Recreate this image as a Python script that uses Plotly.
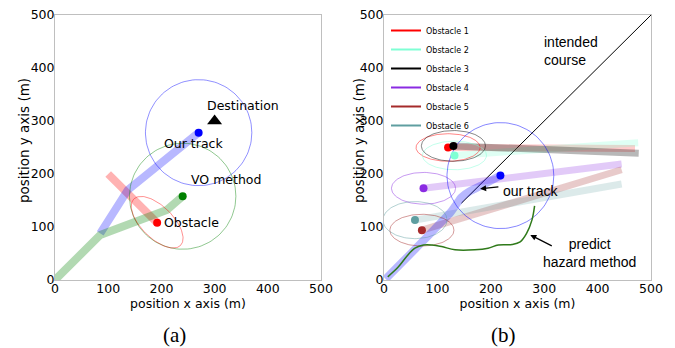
import numpy as np
import plotly.graph_objects as go

# ---------------- data: panel (a) ----------------
a_blue_x = [85, 137, 270]
a_blue_y = [88, 170, 278]
a_green_x = [0, 85, 160, 210, 240]
a_green_y = [0, 85, 113, 132, 158]
a_red_x = [100, 192]
a_red_y = [200, 108]
a_dest = (300, 300)
a_circle_r = 100
a_red_ell = dict(cx=192, cy=109, a=62, b=30, ang=-45)

# ---------------- data: panel (b) ----------------
obs_names = ["Obstacle 1", "Obstacle 2", "Obstacle 3", "Obstacle 4", "Obstacle 5", "Obstacle 6"]
obs_colors = [(255, 0, 0), (127, 255, 212), (0, 0, 0), (138, 43, 226), (165, 42, 42), (95, 158, 160)]
obs_start_x = [120, 132, 130, 74, 71, 58]
obs_start_y = [250, 235, 253, 173, 94, 113]
obs_end_x = [470, 476, 477, 445, 445, 445]
obs_end_y = [248, 259, 239, 219, 208, 181]
obs_ell_a = [60, 60, 60, 60, 60, 60]
obs_ell_b = [26, 27, 29, 30, 30, 35]
obs_track_alpha = [0.2, 0.25, 0.28, 0.25, 0.25, 0.22]

b_track_x = [3, 60, 125, 135, 145, 160, 190, 218]
b_track_y = [2, 60, 128, 142, 156, 167, 182, 197]
b_circle_r = 100
intended_x = [145, 500]
intended_y = [145, 500]
hazard_x = [7, 27, 42, 58, 74, 90, 108, 133, 170, 195, 214, 240, 255, 267, 277, 282]
hazard_y = [6, 25, 44, 60, 66, 66, 63, 57, 57, 60, 66, 67, 72, 88, 113, 140]

ticks = [0, 100, 200, 300, 400, 500]
x_title = "position x axis (m)"
y_title = "position y axis (m)"


def ellipse(cx, cy, a, b, ang_deg=0.0, n=120):
    t = np.linspace(0, 2 * np.pi, n)
    th = np.deg2rad(ang_deg)
    x = cx + a * np.cos(th) * np.cos(t) - b * np.sin(th) * np.sin(t)
    y = cy + a * np.sin(th) * np.cos(t) + b * np.cos(th) * np.sin(t)
    return x, y


def rgba(c, a):
    return f"rgba({c[0]},{c[1]},{c[2]},{a})"


fig = go.Figure()

# ---------------- panel (a) traces ----------------
fig.add_trace(go.Scatter(x=a_red_x, y=a_red_y, mode="lines",
                         line=dict(color="rgba(255,0,0,0.3)", width=8),
                         showlegend=False, xaxis="x", yaxis="y"))
fig.add_trace(go.Scatter(x=a_blue_x, y=a_blue_y, mode="lines",
                         line=dict(color="rgba(0,0,255,0.28)", width=8),
                         showlegend=False, xaxis="x", yaxis="y"))
fig.add_trace(go.Scatter(x=a_green_x, y=a_green_y, mode="lines",
                         line=dict(color="rgba(0,128,0,0.3)", width=8),
                         showlegend=False, xaxis="x", yaxis="y"))
ex, ey = ellipse(a_blue_x[-1], a_blue_y[-1], a_circle_r, a_circle_r)
fig.add_trace(go.Scatter(x=ex, y=ey, mode="lines", line=dict(color="rgba(0,0,255,0.55)", width=0.8),
                         showlegend=False, xaxis="x", yaxis="y"))
ex, ey = ellipse(a_green_x[-1], a_green_y[-1], a_circle_r, a_circle_r)
fig.add_trace(go.Scatter(x=ex, y=ey, mode="lines", line=dict(color="rgba(0,128,0,0.55)", width=0.8),
                         showlegend=False, xaxis="x", yaxis="y"))
ex, ey = ellipse(a_red_ell["cx"], a_red_ell["cy"], a_red_ell["a"], a_red_ell["b"], a_red_ell["ang"])
fig.add_trace(go.Scatter(x=ex, y=ey, mode="lines", line=dict(color="rgba(255,0,0,0.55)", width=0.8),
                         showlegend=False, xaxis="x", yaxis="y"))
fig.add_trace(go.Scatter(x=[a_blue_x[-1]], y=[a_blue_y[-1]], mode="markers",
                         marker=dict(color="blue", size=8), showlegend=False, xaxis="x", yaxis="y"))
fig.add_trace(go.Scatter(x=[a_green_x[-1]], y=[a_green_y[-1]], mode="markers",
                         marker=dict(color="green", size=8), showlegend=False, xaxis="x", yaxis="y"))
fig.add_trace(go.Scatter(x=[a_red_x[-1]], y=[a_red_y[-1]], mode="markers",
                         marker=dict(color="red", size=8), showlegend=False, xaxis="x", yaxis="y"))
fig.add_trace(go.Scatter(x=[a_dest[0]], y=[a_dest[1]], mode="markers",
                         marker=dict(color="black", size=13, symbol="triangle-up"),
                         showlegend=False, xaxis="x", yaxis="y"))

# ---------------- panel (b) traces ----------------
fig.add_trace(go.Scatter(x=intended_x, y=intended_y, mode="lines", line=dict(color="black", width=1),
                         showlegend=False, xaxis="x2", yaxis="y2"))
for i in range(6):
    fig.add_trace(go.Scatter(x=[obs_start_x[i], obs_end_x[i]], y=[obs_start_y[i], obs_end_y[i]],
                             mode="lines", line=dict(color=rgba(obs_colors[i], obs_track_alpha[i]), width=7),
                             showlegend=False, xaxis="x2", yaxis="y2"))
fig.add_trace(go.Scatter(x=b_track_x, y=b_track_y, mode="lines",
                         line=dict(color="rgba(0,0,255,0.28)", width=8, shape="spline", smoothing=0.6),
                         showlegend=False, xaxis="x2", yaxis="y2"))
for i in range(6):
    ex, ey = ellipse(obs_start_x[i], obs_start_y[i], obs_ell_a[i], obs_ell_b[i])
    fig.add_trace(go.Scatter(x=ex, y=ey, mode="lines", line=dict(color=rgba(obs_colors[i], 0.6), width=0.8),
                             showlegend=False, xaxis="x2", yaxis="y2"))
ex, ey = ellipse(b_track_x[-1], b_track_y[-1], b_circle_r, b_circle_r)
fig.add_trace(go.Scatter(x=ex, y=ey, mode="lines", line=dict(color="rgba(0,0,255,0.6)", width=0.8),
                         showlegend=False, xaxis="x2", yaxis="y2"))
fig.add_trace(go.Scatter(x=hazard_x, y=hazard_y, mode="lines",
                         line=dict(color="#2f7a1a", width=1.5, shape="spline"),
                         showlegend=False, xaxis="x2", yaxis="y2"))
for i in range(6):
    fig.add_trace(go.Scatter(x=[obs_start_x[i]], y=[obs_start_y[i]], mode="markers",
                             marker=dict(color=rgba(obs_colors[i], 1), size=8),
                             showlegend=False, xaxis="x2", yaxis="y2"))
fig.add_trace(go.Scatter(x=[b_track_x[-1]], y=[b_track_y[-1]], mode="markers",
                         marker=dict(color="blue", size=8), showlegend=False, xaxis="x2", yaxis="y2"))
# legend entries
for i in range(6):
    fig.add_trace(go.Scatter(x=[None], y=[None], mode="lines", name=obs_names[i],
                             line=dict(color=rgba(obs_colors[i], 1), width=2),
                             showlegend=True, xaxis="x2", yaxis="y2"))

# page has an 8px body margin; lay out in window pixel coordinates
OFF = 8
W, H = 675 - OFF, 348 - OFF


def px(x):
    return (x - OFF) / W


def py(y):
    return 1 - (y - OFF) / H


ydom = [py(280), py(15)]
tickfont = dict(family="DejaVu Sans", size=12.5, color="black")
titlefont = dict(family="DejaVu Sans", size=12.5, color="black")
axis_common = dict(range=[0, 500], tickvals=ticks, ticktext=[str(t) for t in ticks],
                   showgrid=False, zeroline=False, showline=True, mirror=True,
                   linecolor="#bfbfbf", linewidth=1, ticks="", tickfont=tickfont,
                   automargin=False, ticklabelstandoff=-3, ticklabeloverflow="allow")

fig.update_layout(
    width=W, height=H,
    margin=dict(l=0, r=0, t=0, b=0),
    paper_bgcolor="white", plot_bgcolor="white",
    xaxis=dict(domain=[px(55), px(321)], anchor="y",
               title=dict(text=x_title, font=titlefont, standoff=0), **axis_common),
    yaxis=dict(domain=ydom, anchor="x", **axis_common),
    xaxis2=dict(domain=[px(384), px(651)], anchor="y2",
                title=dict(text=x_title, font=titlefont, standoff=0), **axis_common),
    yaxis2=dict(domain=ydom, anchor="x2", **axis_common),
    legend=dict(x=px(386), y=py(16), xanchor="left", yanchor="top",
                font=dict(family="DejaVu Sans", size=8, color="black"),
                bgcolor="rgba(0,0,0,0)", itemwidth=30, tracegroupgap=0),
    showlegend=True,
)

ann_a = dict(family="DejaVu Sans", size=12.5, color="black")
ann_b = dict(family="Liberation Sans", size=14, color="black")
ytitle_font = dict(family="DejaVu Sans", size=13.5, color="black")
panel_font = dict(family="Liberation Serif", size=21, color="black")
annotations = [
    # y axis titles
    dict(x=px(24), y=py(141), xref="paper", yref="paper", text=y_title, textangle=-90,
         xanchor="center", yanchor="middle", showarrow=False, font=ytitle_font),
    dict(x=px(359), y=py(141), xref="paper", yref="paper", text=y_title, textangle=-90,
         xanchor="center", yanchor="middle", showarrow=False, font=ytitle_font),
    dict(x=282, y=330, xref="x", yref="y", text="Destination", showarrow=False, xanchor="left", font=ann_a),
    dict(x=202, y=258, xref="x", yref="y", text="Our track", showarrow=False, xanchor="left", font=ann_a),
    dict(x=252, y=189, xref="x", yref="y", text="VO method", showarrow=False, xanchor="left", font=ann_a),
    dict(x=202, y=109, xref="x", yref="y", text="Obstacle", showarrow=False, xanchor="left", font=ann_a),
    dict(x=295, y=432, xref="x2", yref="y2", text="intended<br>course", showarrow=False,
         xanchor="left", align="left", font=ann_b),
    dict(x=220, y=168, xref="x2", yref="y2", text="our track", showarrow=False, xanchor="left", font=ann_b),
    dict(x=180, y=172, xref="x2", yref="y2", ax=217, ay=176, axref="x2", ayref="y2", text="",
         showarrow=True, arrowhead=2, arrowsize=1, arrowwidth=1.2, arrowcolor="black"),
    dict(x=384, y=51, xref="x2", yref="y2", text="predict<br>hazard method", showarrow=False,
         xanchor="center", align="center", font=ann_b),
    dict(x=274, y=85, xref="x2", yref="y2", ax=317, ay=63, axref="x2", ayref="y2", text="",
         showarrow=True, arrowhead=2, arrowsize=1, arrowwidth=1.2, arrowcolor="black"),
    dict(x=px(174), y=py(335), xref="paper", yref="paper", text="(a)", showarrow=False,
         xanchor="center", yanchor="middle", font=panel_font),
    dict(x=px(503), y=py(335), xref="paper", yref="paper", text="(b)", showarrow=False,
         xanchor="center", yanchor="middle", font=panel_font),
]
fig.update_layout(annotations=annotations)

fig.write_html("out.html")
